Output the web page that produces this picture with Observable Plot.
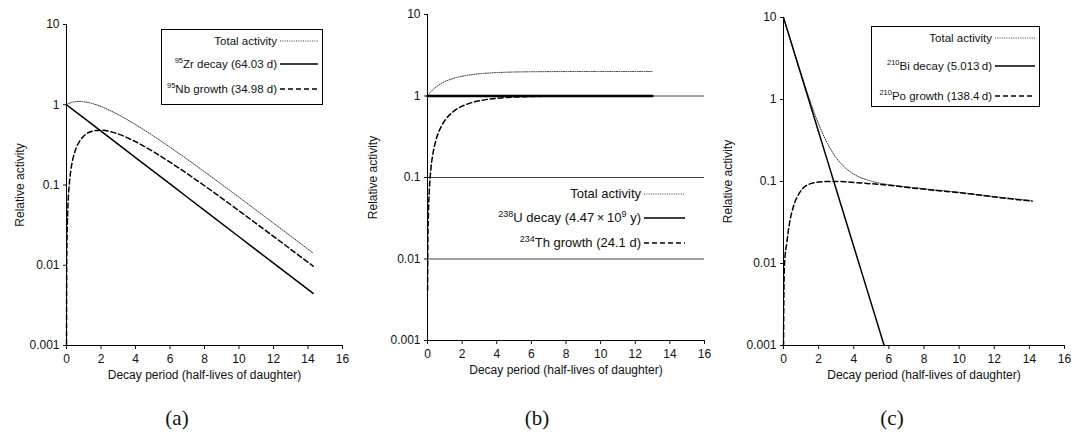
<!DOCTYPE html>
<html><head><meta charset="utf-8">
<script src="https://cdn.jsdelivr.net/npm/d3@7"></script>
<script src="https://cdn.jsdelivr.net/npm/@observablehq/plot@0.6"></script>
<style>
body{margin:0;background:#fff;}
#root{position:relative;width:1075px;height:434px;overflow:hidden;font-family:"Liberation Sans",Arial,sans-serif;color:#111;}
.panel{position:absolute;top:0;}
.box{position:absolute;border:1px solid #000;box-sizing:border-box;}
.row{position:absolute;white-space:nowrap;line-height:14px;height:14px;text-align:right;}
.row sup{vertical-align:5px;line-height:0;}
.sample{position:absolute;overflow:visible;}
.cap{position:absolute;font-family:"Liberation Serif","DejaVu Serif",serif;font-size:21px;transform:translate(-50%,-50%);white-space:nowrap;}
</style></head><body><div id="root"></div>
<script>
// ---- shared axes ----
const xTicks = [0, 2, 4, 6, 8, 10, 12, 14, 16];
const yTicks = [0.001, 0.01, 0.1, 1, 10];
const yTickLabels = ["0.001", "0.01", "0.1", "1", "10"];
const xTitle = "Decay period (half-lives of daughter)";
const yTitle = "Relative activity";

// ---- panel (a): 95Zr -> 95Nb ----
const aDecayX = [0, 1, 2, 4, 6, 8, 10, 12, 14.3];
const aDecayY = [1, 0.6847, 0.4688, 0.2198, 0.1030, 0.0483, 0.02264, 0.01061, 0.004467];
const aGrowthX = [0.0015, 0.01, 0.03, 0.05, 0.1, 0.18, 0.25, 0.5, 0.75, 1, 1.5, 2, 2.5, 3, 4, 5, 6, 8, 10, 12, 14.3];
const aGrowthY = [0.00104, 0.0069, 0.02045, 0.03372, 0.0657, 0.1133, 0.1515, 0.2652, 0.3483, 0.4071, 0.4694, 0.4822, 0.4653, 0.4319, 0.3466, 0.2628, 0.1926, 0.0979, 0.04775, 0.02285, 0.009736];
const aTotalX = [0, 0.1, 0.25, 0.5, 0.75, 1, 1.5, 2, 2.5, 3, 4, 5, 6, 8, 10, 12, 14.3];
const aTotalY = [1, 1.0285, 1.0612, 1.0926, 1.1009, 1.0918, 1.0359, 0.9510, 0.8532, 0.7529, 0.5664, 0.4133, 0.2956, 0.1462, 0.07039, 0.03346, 0.01420];

// ---- panel (b): 238U -> 234Th ----
const bDecayX = [0, 2, 4, 6, 8, 10, 13];
const bDecayY = [1, 1, 1, 1, 1, 1, 1];
const bGrowthX = [0.006, 0.02, 0.05, 0.1, 0.2, 0.35, 0.5, 0.75, 1, 1.5, 2, 2.5, 3, 4, 5, 6, 8, 10, 13];
const bGrowthY = [0.00415, 0.01377, 0.03406, 0.06697, 0.12945, 0.21546, 0.29289, 0.4054, 0.5, 0.64645, 0.75, 0.82322, 0.875, 0.9375, 0.96875, 0.98438, 0.99609, 0.99902, 0.99988];
const bTotalX = [0, 0.1, 0.2, 0.35, 0.5, 0.75, 1, 1.5, 2, 2.5, 3, 4, 5, 6, 8, 10, 13];
const bTotalY = [1, 1.067, 1.129, 1.215, 1.293, 1.405, 1.5, 1.646, 1.75, 1.823, 1.875, 1.9375, 1.969, 1.984, 1.996, 1.999, 2.0];
const bGrid = [0.01, 0.1, 1];

// ---- panel (c): 210Bi -> 210Po ----
const cDecayX = [0, 1, 2, 3, 4, 5, 5.73];
const cDecayY = [10, 2.004, 0.402, 0.0805, 0.01614, 0.00324, 0.001];
const cGrowthX = [0.002, 0.02, 0.06, 0.19, 0.32, 0.57, 0.85, 1.23, 1.8, 2.4, 3.0, 4.38, 6, 7.42, 10, 13.05, 14.16];
const cGrowthY = [0.001, 0.004, 0.01, 0.018, 0.029, 0.05, 0.069, 0.087, 0.097, 0.1, 0.1, 0.096, 0.09, 0.083, 0.073, 0.061, 0.0575];
const cTotalX = [0, 0.5, 1, 1.5, 2, 2.5, 3, 3.5, 4, 5, 6, 7, 8, 10, 12, 14.16];
const cTotalY = [10, 4.52, 2.07, 0.977, 0.50, 0.292, 0.195, 0.148, 0.123, 0.101, 0.0915, 0.0862, 0.0815, 0.0738, 0.0655, 0.0585];

// ---- legend texts ----
const legendA = ["Total activity", "<sup>95</sup>Zr decay (64.03 d)", "<sup>95</sup>Nb growth (34.98 d)"];
const legendB = ["Total activity", "<sup>238</sup>U decay (4.47\u2009\u00d7\u200910<sup>9</sup> y)", "<sup>234</sup>Th growth (24.1 d)"];
const legendC = ["Total activity", "<sup>210</sup>Bi decay (5.013\u2009d)", "<sup>210</sup>Po growth (138.4\u2009d)"];
const captions = ["(a)", "(b)", "(c)"];

const root = document.getElementById("root");
const pts = (xs, ys) => xs.map((x, i) => ({x, y: ys[i]}));

const STY = {
  total: {stroke: "#333", strokeWidth: 1, strokeDasharray: "1,1.3"},
  decay: {stroke: "#000", strokeWidth: 1.5, strokeDasharray: null},
  growth: {stroke: "#000", strokeWidth: 1.5, strokeDasharray: "5,3"}
};

function makePanel(cfg) {
  const marks = [];
  for (const g of (cfg.grid || [])) marks.push(Plot.ruleY([g], {stroke: "#444", strokeWidth: 1}));
  marks.push(Plot.ruleX([0], {stroke: "#000", strokeWidth: 1}));
  marks.push(Plot.ruleY([0.001], {stroke: "#000", strokeWidth: 1}));
  for (const s of cfg.series) {
    const st = STY[s.kind];
    marks.push(Plot.line(pts(s.x, s.y), {x: "x", y: "y", curve: "monotone-x",
      stroke: st.stroke, strokeWidth: s.width || st.strokeWidth, strokeDasharray: st.strokeDasharray}));
  }
  marks.push(Plot.axisY(yTicks, {tickFormat: d => yTickLabels[yTicks.indexOf(d)], tickSize: 3, tickPadding: 4,
    label: yTitle, labelAnchor: "center", labelArrow: "none", labelOffset: cfg.ylabOff, fontSize: 12}));
  marks.push(Plot.axisX(xTicks, {tickSize: 4, tickPadding: 5, label: xTitle, labelAnchor: "center", labelArrow: "none",
    labelOffset: 33, fontSize: 12}));
  const svg = Plot.plot({
    width: cfg.width, height: cfg.height,
    marginLeft: cfg.ml, marginRight: cfg.mr, marginTop: cfg.mt, marginBottom: cfg.height - cfg.bottom,
    x: {domain: [0, 16], labelArrow: "none"},
    y: {type: "log", domain: [0.001, 10], labelArrow: "none"},
    style: {fontFamily: '"Liberation Sans", Arial, sans-serif', fontSize: "12px", background: "transparent", color: "#111"},
    marks
  });
  svg.classList.add("panel");
  svg.style.left = cfg.left + "px";
  root.appendChild(svg);
}

function makeLegend(texts, kinds, rows, textRight, s1, s2, box, fs, sfs) {
  if (box) {
    const b = document.createElement("div");
    b.className = "box";
    Object.assign(b.style, {left: box[0] + "px", top: box[1] + "px", width: (box[2] - box[0]) + "px", height: (box[3] - box[1]) + "px"});
    root.appendChild(b);
  }
  texts.forEach((t, i) => {
    const r = document.createElement("div");
    r.className = "row";
    r.innerHTML = t;
    r.style.fontSize = fs + "px";
    r.querySelectorAll("sup").forEach(s => s.style.fontSize = sfs + "px");
    r.style.right = (1075 - textRight) + "px";
    r.style.top = (rows[i] - 7) + "px";
    root.appendChild(r);
    const st = STY[kinds[i]];
    const ns = "http://www.w3.org/2000/svg";
    const svg = document.createElementNS(ns, "svg");
    svg.setAttribute("class", "sample");
    svg.setAttribute("width", s2 - s1);
    svg.setAttribute("height", 6);
    svg.style.left = s1 + "px";
    svg.style.top = (rows[i] - 3) + "px";
    const ln = document.createElementNS(ns, "line");
    ln.setAttribute("x1", 0); ln.setAttribute("x2", s2 - s1);
    ln.setAttribute("y1", 3); ln.setAttribute("y2", 3);
    ln.setAttribute("stroke", st.stroke);
    ln.setAttribute("stroke-width", st.strokeWidth);
    if (st.strokeDasharray) ln.setAttribute("stroke-dasharray", st.strokeDasharray);
    svg.appendChild(ln);
    root.appendChild(svg);
  });
}

const kinds = ["total", "decay", "growth"];

makePanel({left: 0, width: 360, height: 395, ml: 66, mr: 18, mt: 24, bottom: 345, ylabOff: 51,
  series: [
    {kind: "total", x: aTotalX, y: aTotalY},
    {kind: "decay", x: aDecayX, y: aDecayY},
    {kind: "growth", x: aGrowthX, y: aGrowthY}
  ]});
makePanel({left: 360, width: 360, height: 395, ml: 67, mr: 16, mt: 14, bottom: 340, ylabOff: 59, grid: bGrid,
  series: [
    {kind: "total", x: bTotalX, y: bTotalY},
    {kind: "decay", x: bDecayX, y: bDecayY, width: 2.4},
    {kind: "growth", x: bGrowthX, y: bGrowthY}
  ]});
makePanel({left: 715, width: 360, height: 395, ml: 68, mr: 11, mt: 17, bottom: 345, ylabOff: 60,
  series: [
    {kind: "total", x: cTotalX, y: cTotalY},
    {kind: "decay", x: cDecayX, y: cDecayY},
    {kind: "growth", x: cGrowthX, y: cGrowthY}
  ]});

makeLegend(legendA, kinds, [41, 64, 89], 277, 280, 318, [161, 29, 323, 105], 11.5, 7.5);
makeLegend(legendB, kinds, [194, 218, 243], 641, 644, 685, null, 13, 9);
makeLegend(legendC, kinds, [38, 66, 96], 992, 995, 1035, [871, 26, 1040, 107], 11.5, 7.5);

[[177, 418], [537, 418], [892, 418]].forEach((p, i) => {
  const c = document.createElement("div");
  c.className = "cap";
  c.textContent = captions[i];
  c.style.left = p[0] + "px";
  c.style.top = p[1] + "px";
  root.appendChild(c);
});
</script></body></html>
